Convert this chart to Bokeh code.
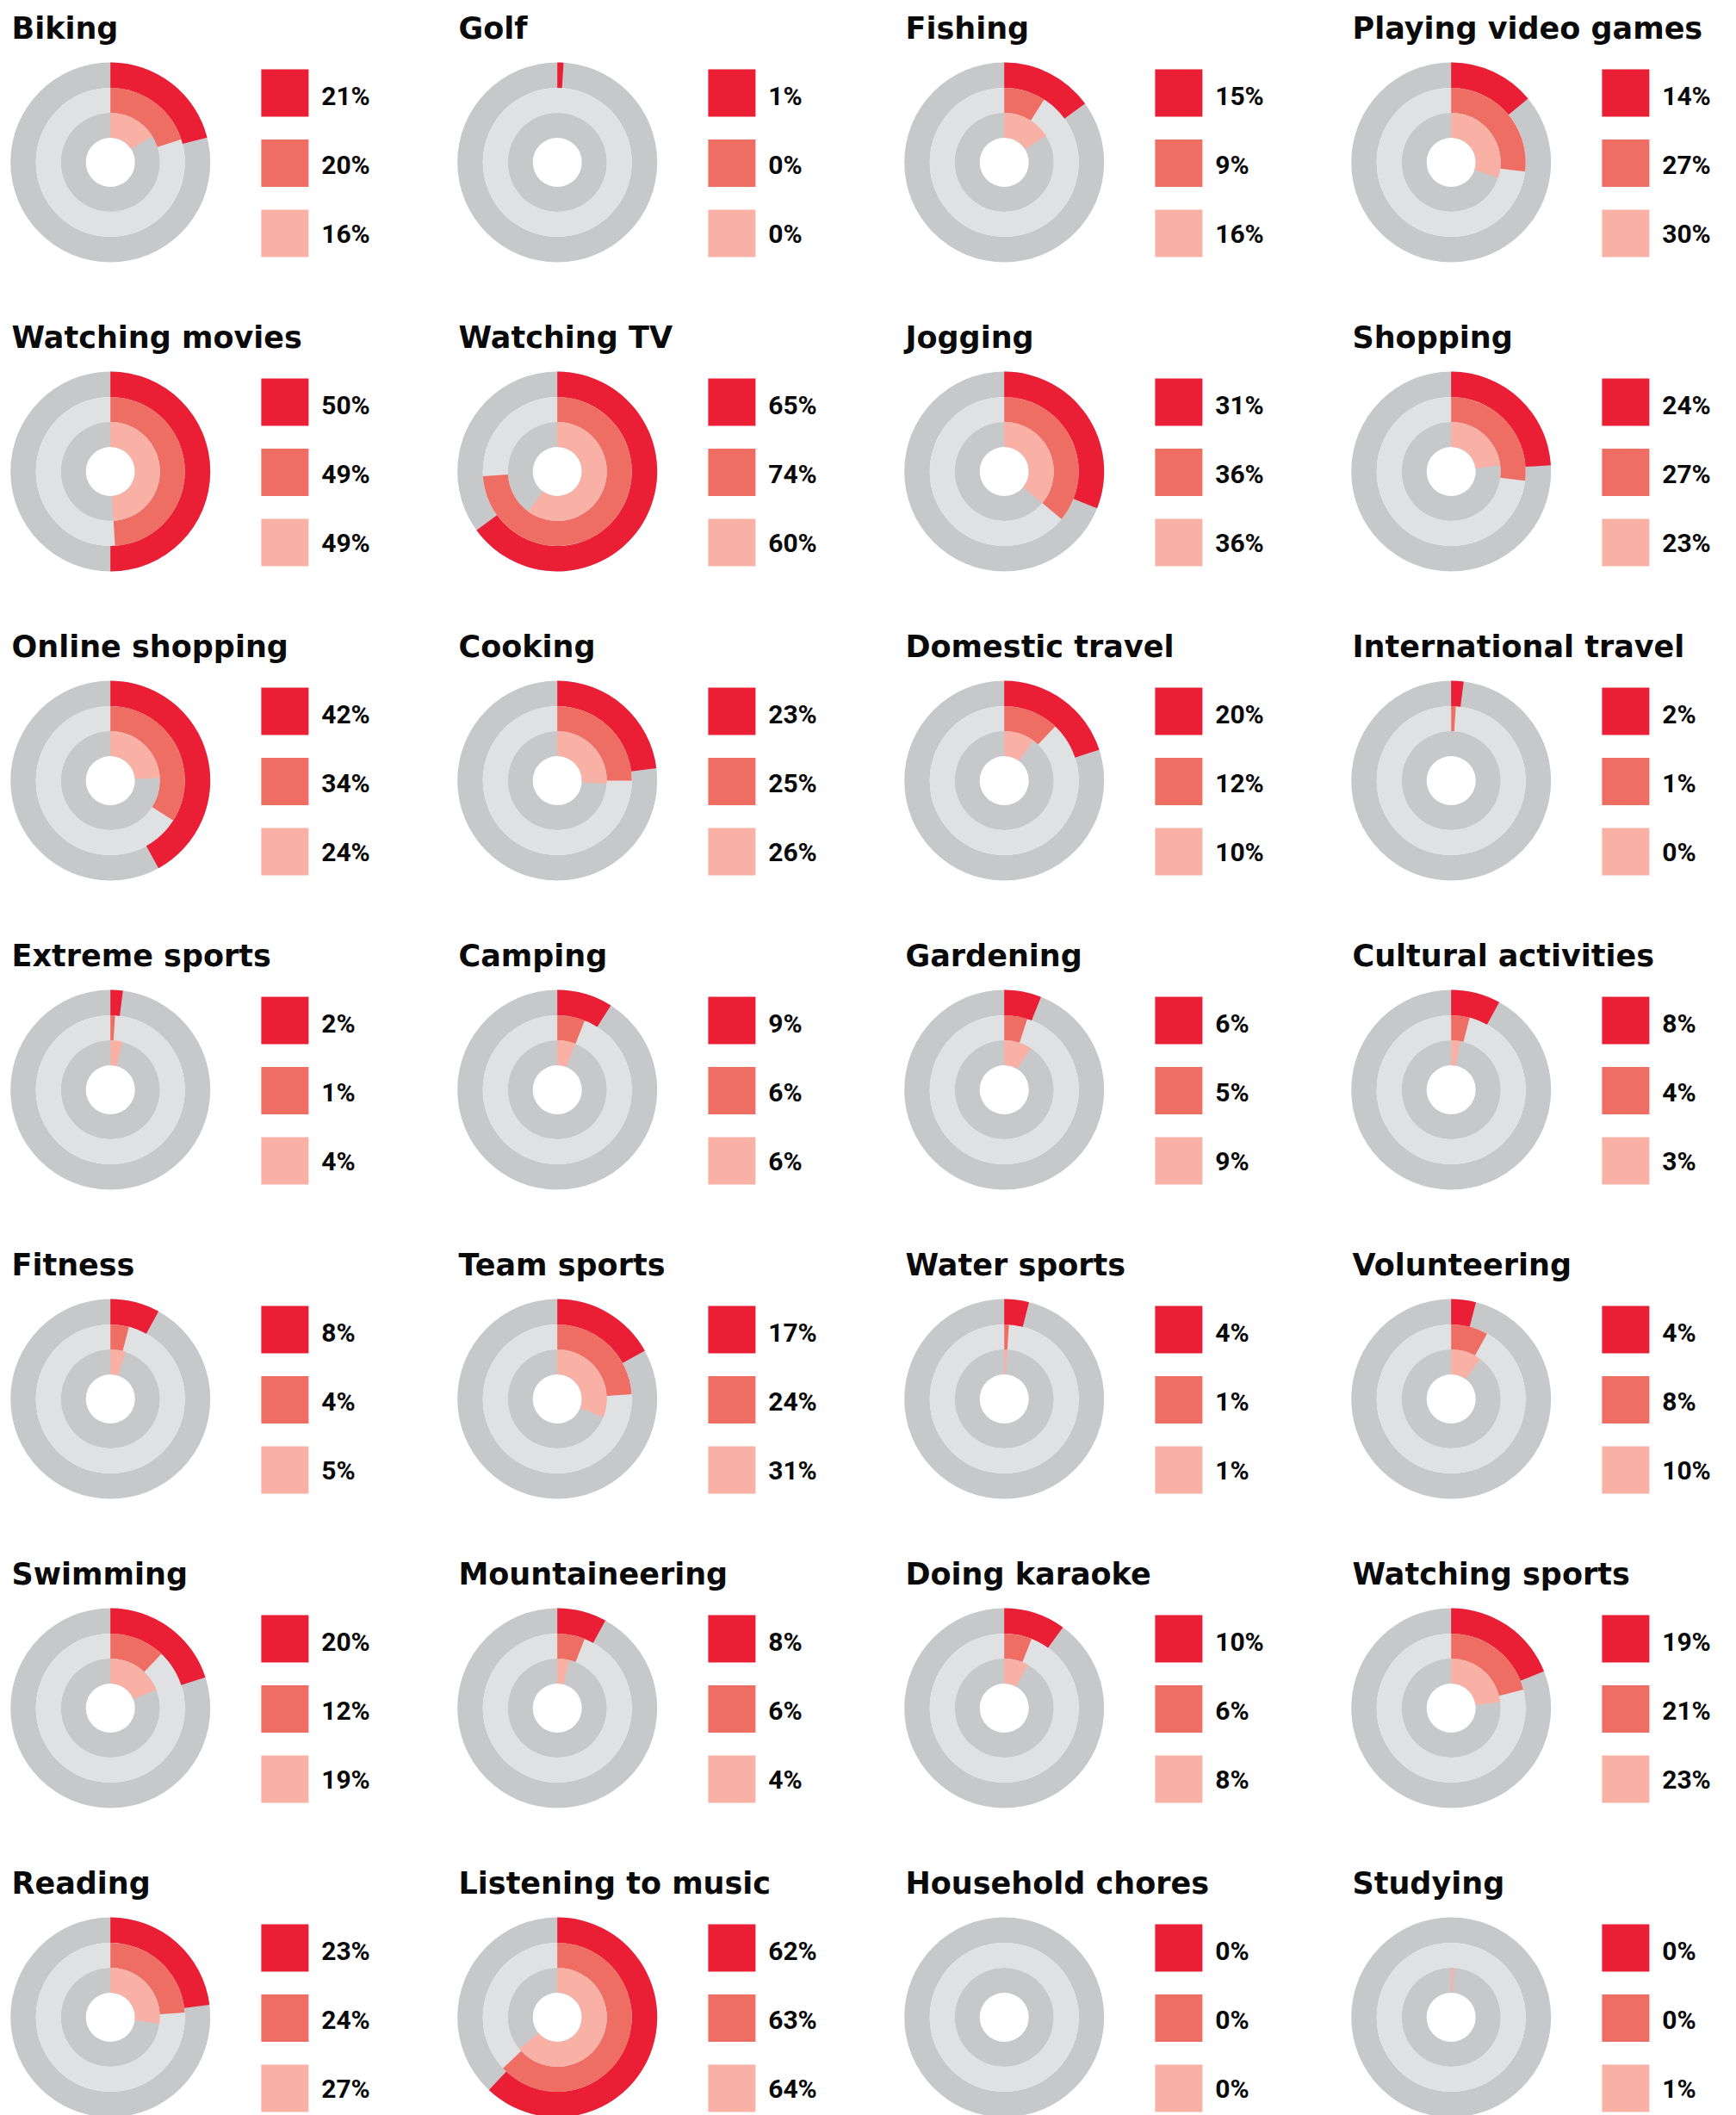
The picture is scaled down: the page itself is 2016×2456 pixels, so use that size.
import math
from bokeh.plotting import figure
from bokeh.models import ColumnDataSource, Range1d
from bokeh.core.properties import value
from bokeh.embed import file_html
from bokeh.resources import INLINE

# ---------------- data ----------------
activities = [
    "Biking", "Golf", "Fishing", "Playing video games",
    "Watching movies", "Watching TV", "Jogging", "Shopping",
    "Online shopping", "Cooking", "Domestic travel", "International travel",
    "Extreme sports", "Camping", "Gardening", "Cultural activities",
    "Fitness", "Team sports", "Water sports", "Volunteering",
    "Swimming", "Mountaineering", "Doing karaoke", "Watching sports",
    "Reading", "Listening to music", "Household chores", "Studying",
]
series_1 = [21, 1, 15, 14, 50, 65, 31, 24, 42, 23, 20, 2, 2, 9, 6, 8,
            8, 17, 4, 4, 20, 8, 10, 19, 23, 62, 0, 0]
series_2 = [20, 0, 9, 27, 49, 74, 36, 27, 34, 25, 12, 1, 1, 6, 5, 4,
            4, 24, 1, 8, 12, 6, 6, 21, 24, 63, 0, 0]
series_3 = [16, 0, 16, 30, 49, 60, 36, 23, 24, 26, 10, 0, 4, 6, 9, 3,
            5, 31, 1, 10, 19, 4, 8, 23, 27, 64, 0, 1]

series_colors = ["#EA1E34", "#EF6E63", "#F9B1A6"]
track_colors = ["#C7C8CA", "#E0E1E3", "#C7C8CA"]

# ---------------- layout ----------------
W, H = 2016, 2456
NCOL = 4
COL0, COLP = 127.7, 519.0
ROW0, ROWP = 188.0, 359.0
R_EDGES = [116.0, 86.5, 57.5, 28.5]  # outer -> hole
TXT_SHIFT = 11.0

def fy(ypix):
    return H - ypix

p = figure(width=W, height=H, output_backend="svg", toolbar_location=None,
           x_range=Range1d(0, W), y_range=Range1d(0, H), min_border=0)
p.axis.visible = False
p.grid.visible = False
p.outline_line_color = None
p.background_fill_color = "white"
p.border_fill_color = "white"

cx_list, cy_list = [], []
for i, _ in enumerate(activities):
    c, r = i % NCOL, i // NCOL
    cx_list.append(COL0 + c * COLP)
    cy_list.append(ROW0 + r * ROWP)

# tracks
for k in range(3):
    src = ColumnDataSource(dict(x=cx_list, y=[fy(v) for v in cy_list]))
    p.annulus(x="x", y="y", source=src,
              inner_radius=R_EDGES[k + 1], outer_radius=R_EDGES[k],
              inner_radius_units="screen", outer_radius_units="screen",
              fill_color=track_colors[k], line_color=None)

# wedges
all_series = [series_1, series_2, series_3]
for k, ser in enumerate(all_series):
    xs, ys, ends = [], [], []
    for i, v in enumerate(ser):
        if v <= 0:
            continue
        xs.append(cx_list[i])
        ys.append(fy(cy_list[i]))
        ends.append(math.pi / 2 - 2 * math.pi * v / 100.0)
    src = ColumnDataSource(dict(x=xs, y=ys, end=ends))
    p.annular_wedge(x="x", y="y", source=src,
                    inner_radius=R_EDGES[k + 1], outer_radius=R_EDGES[k],
                    inner_radius_units="screen", outer_radius_units="screen",
                    start_angle=math.pi / 2, end_angle="end", direction="clock",
                    fill_color=series_colors[k], line_color=None)

# legend squares and labels
for k, ser in enumerate(all_series):
    sx = [cx + 202.7 for cx in cx_list]
    sy = [fy(cy - 80.5 + 81.5 * k) for cy in cy_list]
    p.rect(x=sx, y=sy, width=55, height=55, fill_color=series_colors[k], line_color=None)
    tx = [cx + 245 for cx in cx_list]
    ty = [fy(cy - 66.3 + 80.0 * k - TXT_SHIFT) for cy in cy_list]
    labels = [f"{v}%" for v in ser]
    p.text(x=tx, y=ty, text=labels, text_font=value("Roboto"), text_font_style="bold",
           text_font_size="30px", text_color="#0a0a0a", text_baseline="alphabetic",
           text_align="left")

# titles
p.text(x=[cx - 114.7 for cx in cx_list], y=[fy(cy - 144.7 - TXT_SHIFT) for cy in cy_list],
       text=activities, text_font=value("DejaVu Sans"), text_font_style="bold",
       text_font_size="35px", text_color="#0a0a0a", text_baseline="alphabetic",
       text_align="left")

open("out.html", "w").write(file_html(p, INLINE))
